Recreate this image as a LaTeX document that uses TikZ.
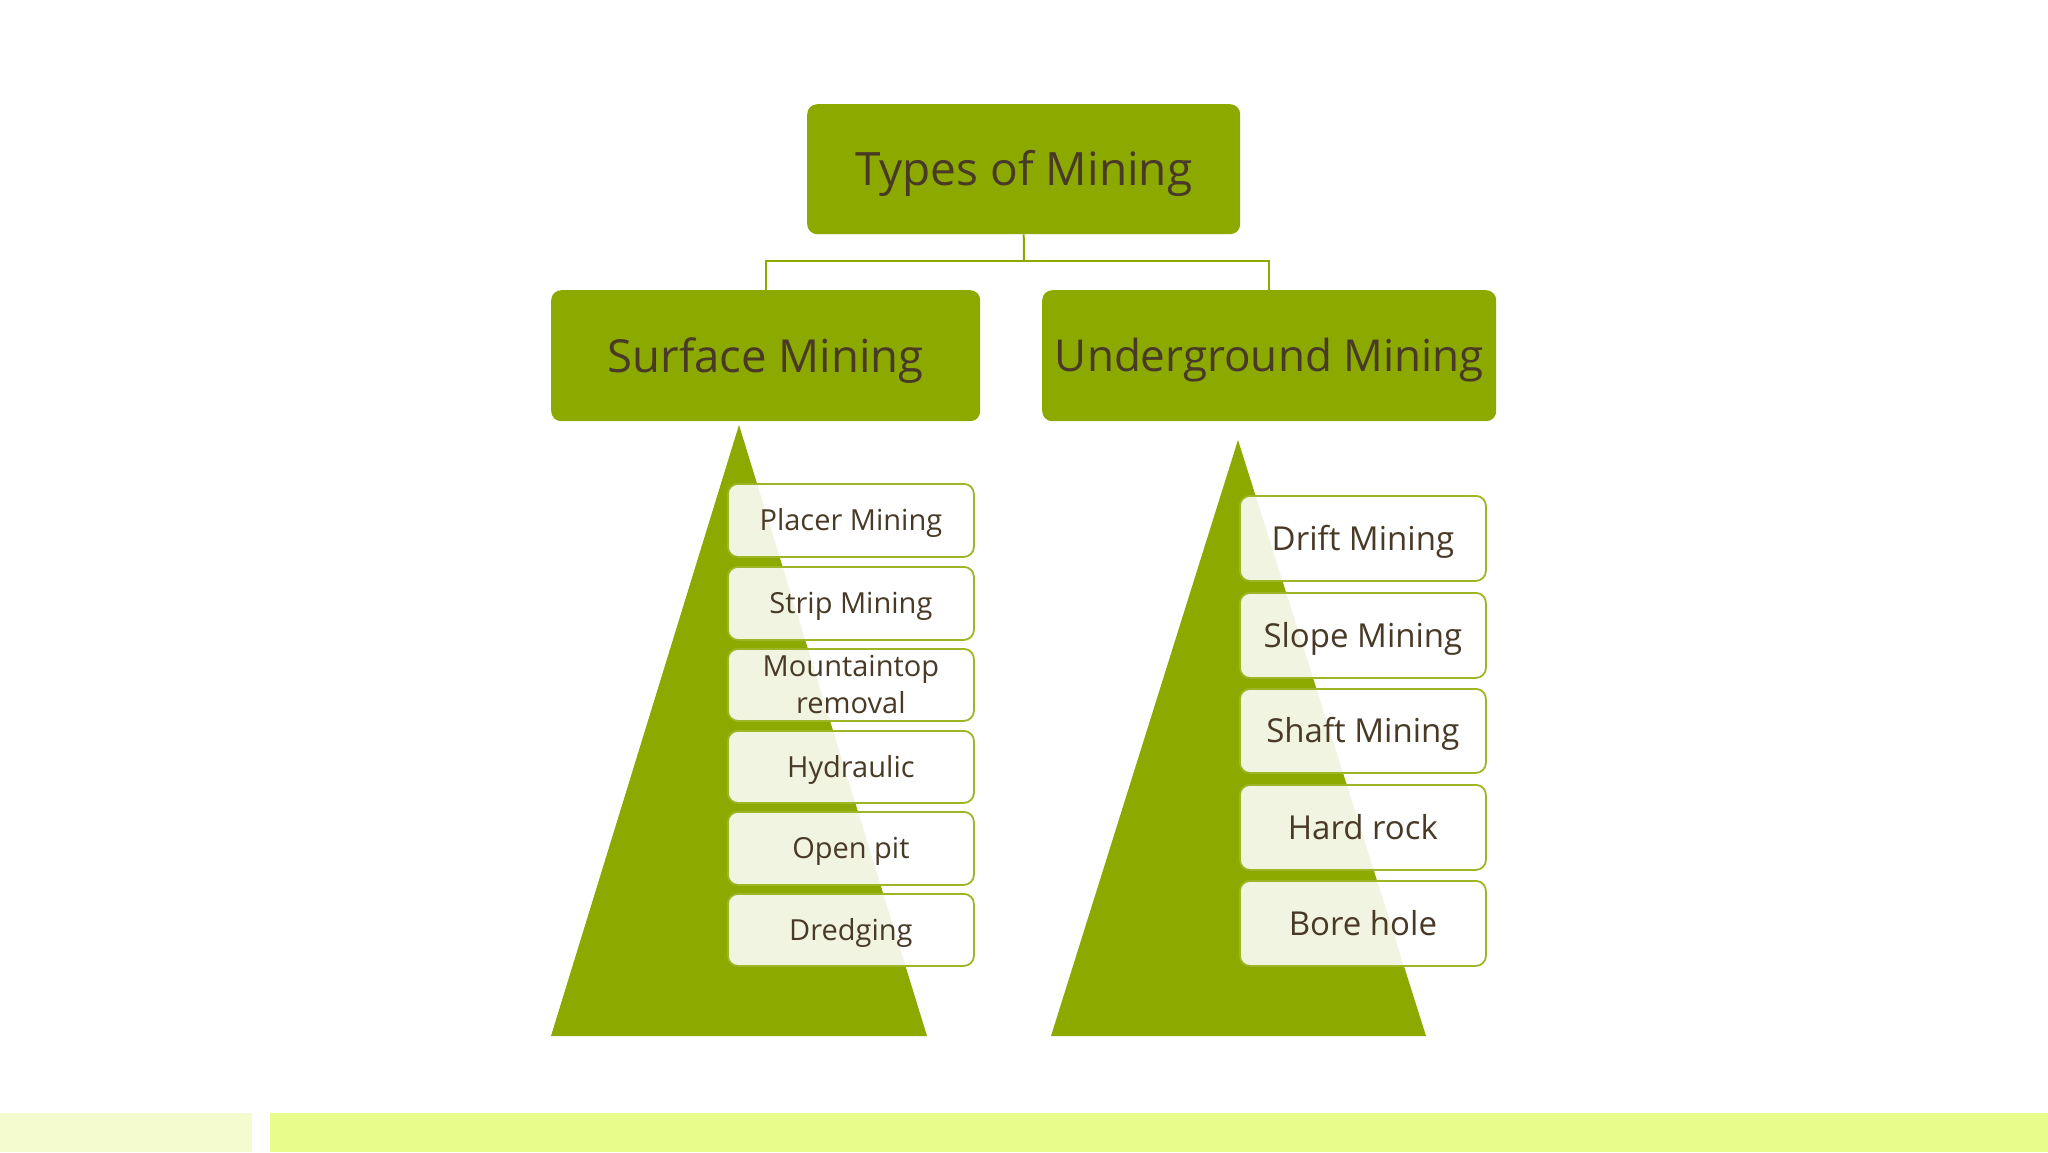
\documentclass[tikz,border=0pt]{standalone}
\usepackage{fontspec}
\setmainfont{Open Sans}
\definecolor{mgreen}{RGB}{140,169,0}
\definecolor{mtext}{RGB}{72,58,38}
\definecolor{barA}{RGB}{244,252,207}
\definecolor{barB}{RGB}{232,252,140}
\newcommand\capcentre[1]{\smash{\raisebox{-0.36em}{#1}}}
\begin{document}
\begin{tikzpicture}[x=1pt,y=-1pt,
  headbox/.style={fill=mgreen, draw=none, rounded corners=10pt, text=mtext, inner sep=0pt, anchor=north west},
  itembox/.style={fill=white, fill opacity=0.88, text opacity=1, draw=mgreen!85!white, line width=1.8pt, rounded corners=10pt, text=mtext, inner sep=0pt, anchor=north west, align=center, font=\fontsize{29}{36}\selectfont},
  conn/.style={draw=mgreen, line width=2pt}]
\useasboundingbox (0,0) rectangle (2048,1152);
\fill[white] (0,0) rectangle (2048,1152);
% bottom bars
\fill[barA] (0,1113) rectangle (252,1152);
\fill[barB] (270,1113) rectangle (2048,1152);
% top boxes
\node[headbox, minimum width=433pt, minimum height=130pt, font=\fontsize{46}{50}\selectfont] (top) at (807,104) {\capcentre{Types of Mining}};
\node[headbox, minimum width=429pt, minimum height=131pt, font=\fontsize{45.5}{50}\selectfont] (surf) at (551,290) {\capcentre{Surface Mining}};
\node[headbox, minimum width=454pt, minimum height=131pt, font=\fontsize{44}{50}\selectfont] (under) at (1042,290) {\capcentre{Underground Mining}};
% connectors
\coordinate (mid) at (1024,261);
\draw[conn] (top.south) -- (mid);
\draw[conn] (mid) -| (surf.north);
\draw[conn] (mid) -| (under.north);
% triangles
\fill[mgreen] (739,425) -- (927,1036) -- (551,1036) -- cycle;
\fill[mgreen] (1238,440) -- (1426,1036) -- (1051,1036) -- cycle;
% surface items
\node[itembox, minimum width=246pt, minimum height=73pt] (s1) at (727,483) {\capcentre{Placer Mining}};
\node[itembox, minimum width=246pt, minimum height=73pt] (s2) at (727,566) {\capcentre{Strip Mining}};
\node[itembox, minimum width=246pt, minimum height=72pt] (s3) at (727,648) {Mountaintop\\[1pt]removal};
\node[itembox, minimum width=246pt, minimum height=72pt] (s4) at (727,730) {\capcentre{Hydraulic}};
\node[itembox, minimum width=246pt, minimum height=73pt] (s5) at (727,811) {\capcentre{Open pit}};
\node[itembox, minimum width=246pt, minimum height=72pt] (s6) at (727,893) {\capcentre{Dredging}};
% underground items
\node[itembox, minimum width=246pt, minimum height=85pt, font=\fontsize{33}{38}\selectfont] (u1) at (1239,495) {\capcentre{Drift Mining}};
\node[itembox, minimum width=246pt, minimum height=85pt, font=\fontsize{33}{38}\selectfont] (u2) at (1239,592) {\capcentre{Slope Mining}};
\node[itembox, minimum width=246pt, minimum height=84pt, font=\fontsize{33}{38}\selectfont] (u3) at (1239,688) {\capcentre{Shaft Mining}};
\node[itembox, minimum width=246pt, minimum height=85pt, font=\fontsize{33}{38}\selectfont] (u4) at (1239,784) {\capcentre{Hard rock}};
\node[itembox, minimum width=246pt, minimum height=85pt, font=\fontsize{33}{38}\selectfont] (u5) at (1239,880) {\capcentre{Bore hole}};
\end{tikzpicture}
\end{document}
